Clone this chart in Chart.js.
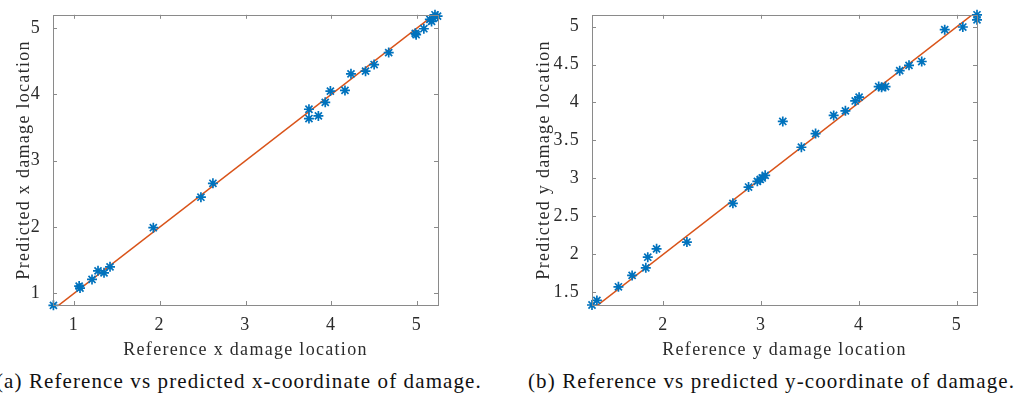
<!DOCTYPE html>
<html>
<head>
<meta charset="utf-8">
<script src="https://cdn.jsdelivr.net/npm/chart.js@4.4.1/dist/chart.umd.min.js"></script>
<style>
    body { margin: 0; background: #fff; width: 1018px; height: 398px; overflow: hidden; position: relative; }
    .panel { position: absolute; top: 0; }
    .caption { position: absolute; top: 369px; font-family: "Liberation Serif", serif; font-size: 21px; letter-spacing: 1.1px; color: #111; white-space: nowrap; }
</style>
</head>
<body>
<div class="panel" style="left:0px;width:470px;height:365px"><canvas id="chartX"></canvas></div>
<div class="panel" style="left:520px;width:498px;height:365px"><canvas id="chartY"></canvas></div>
<div class="caption" id="capA" style="left:-4px">(a) Reference vs predicted x-coordinate of damage.</div>
<div class="caption" id="capB" style="left:528px">(b) Reference vs predicted y-coordinate of damage.</div>
<script>
// du lieu doc tu hinh: vi tri hu hong theo x
var refX = [0.76, 1.06, 1.07, 1.21, 1.28, 1.35, 1.42, 1.925, 2.48, 2.62,
    3.74, 3.74, 3.85, 3.93, 3.99, 4.16, 4.23, 4.40, 4.50, 4.67,
    4.98, 4.99, 5.08, 5.15, 5.17, 5.19, 5.21, 5.24];
var predX = [0.82, 1.11, 1.08, 1.21, 1.34, 1.31, 1.40, 1.99, 2.45, 2.66,
    3.776, 3.636, 3.676, 3.88, 4.05, 4.06, 4.31, 4.35, 4.45, 4.63,
    4.92, 4.90, 4.99, 5.13, 5.10, 5.15, 5.20, 5.18];

// vi tri hu hong theo y
var refY = [1.27, 1.32, 1.54, 1.68, 1.82, 1.84, 1.93, 2.24, 2.71, 2.87,
    2.96, 2.99, 3.01, 3.04, 3.22, 3.41, 3.555, 3.74, 3.86, 3.96,
    4.00, 4.20, 4.23, 4.27, 4.415, 4.51, 4.64, 4.875, 5.06, 5.205, 5.205];
var predY = [1.33, 1.39, 1.57, 1.72, 1.82, 1.96, 2.07, 2.16, 2.67, 2.885,
    2.96, 2.985, 3.005, 3.04, 3.75, 3.41, 3.59, 3.83, 3.89, 4.02,
    4.07, 4.21, 4.20, 4.21, 4.42, 4.49, 4.54, 4.96, 4.995, 5.09, 5.156];

// duong y = x
var lineX = [0.755, 5.25];
var lineY = [1.27, 5.21];

var ticksXLeft = [1, 2, 3, 4, 5];
var ticksXRight = [2, 3, 4, 5];
var ticksYLeft = [1, 2, 3, 4, 5];
var ticksYRight = [1.5, 2, 2.5, 3, 3.5, 4, 4.5, 5];

var blue = '#0072BD';
var orange = '#D95319';
var textColor = '#2b2b2b';
var boxColor = '#8a8a8a';
var tickFont = { family: 'Liberation Serif', size: 18 };
var labelFont = { family: 'Liberation Serif', size: 18 };

// ve khung va vach chia huong vao trong (kieu MATLAB)
var boxPlugin = {
    id: 'boxPlugin',
    beforeDraw: function (chart) {
        // chu kieu LaTeX rong hon, gian chu mot chut
        chart.ctx.letterSpacing = '1.3px';
    },
    afterDraw: function (chart) {
        var ctx = chart.ctx, a = chart.chartArea;
        var sx = chart.scales.x, sy = chart.scales.y;
        ctx.save();
        ctx.strokeStyle = boxColor;
        ctx.lineWidth = 1;
        ctx.strokeRect(Math.round(a.left) + 0.5, Math.round(a.top) + 0.5,
            Math.round(a.right - a.left), Math.round(a.bottom - a.top));
        var len = 4;
        ctx.beginPath();
        sx.ticks.forEach(function (t) {
            var px = Math.round(sx.getPixelForValue(t.value)) + 0.5;
            ctx.moveTo(px, a.bottom); ctx.lineTo(px, a.bottom - len);
            ctx.moveTo(px, a.top); ctx.lineTo(px, a.top + len);
        });
        sy.ticks.forEach(function (t) {
            var py = Math.round(sy.getPixelForValue(t.value)) + 0.5;
            ctx.moveTo(a.left, py); ctx.lineTo(a.left + len, py);
            ctx.moveTo(a.right, py); ctx.lineTo(a.right - len, py);
        });
        ctx.stroke();
        ctx.restore();
    }
};

function toPoints(xs, ys) {
    return xs.map(function (v, i) { return { x: v, y: ys[i] }; });
}

function makeChart(id, xs, ys, line, xr, yr, xTicks, yTicks, xTitle, yTitle, yWidth, pad) {
    var ctx = document.getElementById(id).getContext('2d');
    return new Chart(ctx, {
        type: 'scatter',
        data: {
            datasets: [{
                type: 'line',
                data: toPoints(line, line),
                borderColor: orange,
                borderWidth: 1.5,
                pointRadius: 0,
                fill: false,
                order: 2
            }, {
                data: toPoints(xs, ys),
                pointStyle: 'star',
                pointRadius: 5,
                borderColor: blue,
                backgroundColor: blue,
                borderWidth: 1.7,
                clip: false,
                order: 1
            }]
        },
        options: {
            responsive: true,
            maintainAspectRatio: false,
            animation: false,
            layout: { padding: pad },
            plugins: { legend: { display: false }, tooltip: { enabled: false } },
            scales: {
                x: {
                    type: 'linear',
                    min: xr[0], max: xr[1],
                    afterBuildTicks: function (s) { s.ticks = xTicks.map(function (v) { return { value: v }; }); },
                    grid: { display: false },
                    border: { display: false },
                    ticks: { color: textColor, font: tickFont, padding: 1, callback: function (v) { return String(v); } },
                    title: { display: true, text: xTitle, color: textColor, font: labelFont, padding: { top: 0 } },
                    afterFit: function (s) { s.height = 60; }
                },
                y: {
                    type: 'linear',
                    min: yr[0], max: yr[1],
                    afterBuildTicks: function (s) { s.ticks = yTicks.map(function (v) { return { value: v }; }); },
                    grid: { display: false },
                    border: { display: false },
                    ticks: { color: textColor, font: tickFont, padding: 4, callback: function (v) { return String(v); } },
                    title: { display: true, text: yTitle, color: textColor, font: labelFont, padding: { top: 13, bottom: 0 } },
                    afterFit: function (s) { s.width = yWidth; }
                }
            }
        },
        plugins: [boxPlugin]
    });
}

makeChart('chartX', refX, predX, lineX, [0.755, 5.245], [0.825, 5.2], ticksXLeft, ticksYLeft,
    'Reference x damage location', 'Predicted x damage location', 53,
    { left: 0, right: 32, top: 9, bottom: 0 });

makeChart('chartY', refY, predY, lineY, [1.27, 5.205], [1.33, 5.156], ticksXRight, ticksYRight,
    'Reference y damage location', 'Predicted y damage location', 72,
    { left: 0, right: 41, top: 9, bottom: 0 });
</script>
</body>
</html>
